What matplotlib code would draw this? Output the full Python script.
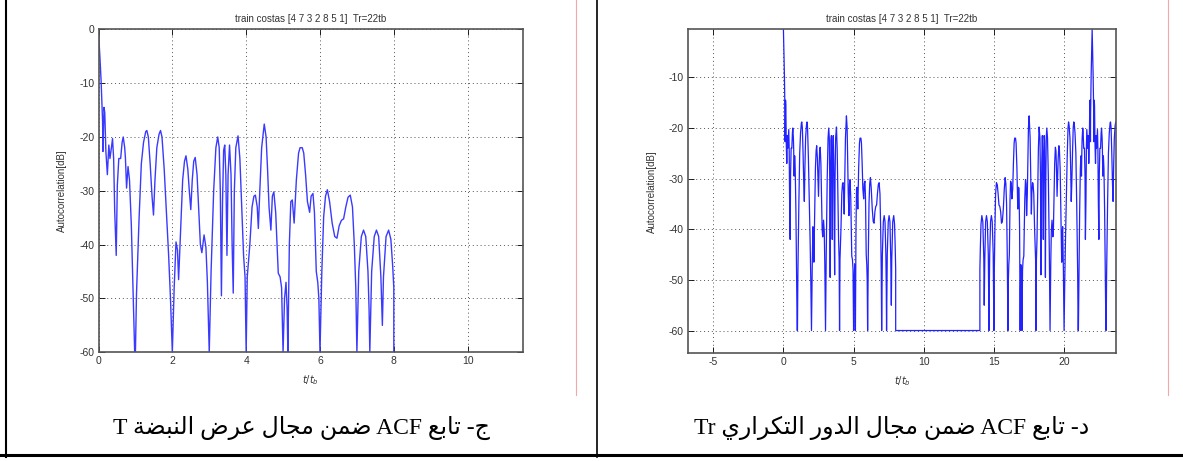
import numpy as np
import matplotlib
matplotlib.use('Agg')
import matplotlib.pyplot as plt
from matplotlib.lines import Line2D

plt.rcParams['font.family'] = ['Liberation Sans', 'DejaVu Sans']
plt.rcParams['axes.unicode_minus'] = False

# ACF of the costas pulse train (t/tb, dB)
t_pulse = [0.00, 0.04, 0.07, 0.11, 0.12, 0.15, 0.17, 0.20, 0.24, 0.28, 0.31, 0.35, 0.38,
           0.41, 0.44, 0.48, 0.51, 0.55, 0.60, 0.64, 0.67, 0.71, 0.73, 0.76, 0.80, 0.84,
           0.89, 0.94, 0.98, 1.00, 1.03, 1.10, 1.16, 1.22, 1.28, 1.31, 1.35, 1.40, 1.45,
           1.49, 1.53, 1.58, 1.64, 1.68, 1.72, 1.78, 1.84, 1.90, 1.95, 2.00, 2.05, 2.10,
           2.14, 2.17, 2.22, 2.28, 2.33, 2.37, 2.42, 2.46, 2.50, 2.54, 2.58, 2.62, 2.67,
           2.72, 2.76, 2.80, 2.86, 2.91, 2.95, 3.00, 3.05, 3.12, 3.18, 3.23, 3.27, 3.30,
           3.33, 3.36, 3.39, 3.42, 3.45, 3.48, 3.51, 3.55, 3.59, 3.62, 3.65, 3.68, 3.72,
           3.78, 3.83, 3.88, 3.93, 3.97, 4.00, 4.03, 4.10, 4.16, 4.21, 4.25, 4.30, 4.33,
           4.37, 4.42, 4.49, 4.54, 4.58, 4.62, 4.67, 4.71, 4.75, 4.80, 4.87, 4.92, 4.96,
           5.00, 5.04, 5.08, 5.11, 5.13, 5.17, 5.21, 5.25, 5.30, 5.36, 5.42, 5.46, 5.52,
           5.56, 5.61, 5.66, 5.72, 5.76, 5.81, 5.85, 5.90, 5.94, 5.97, 6.00, 6.05, 6.10,
           6.15, 6.20, 6.26, 6.33, 6.40, 6.46, 6.52, 6.58, 6.64, 6.70, 6.76, 6.82, 6.88,
           6.93, 6.97, 7.00, 7.05, 7.12, 7.18, 7.24, 7.30, 7.33, 7.35, 7.40, 7.47, 7.53,
           7.59, 7.65, 7.69, 7.72, 7.79, 7.86, 7.92, 7.97, 8.00, 8.00]
acf_pulse = [-0.5, -5.4, -9.5, -17, -22.7, -14.5, -15.5, -22.7, -27, -21.5, -24, -22, -20.3,
             -24, -34, -42, -29, -24, -24, -21, -20, -22, -24, -29.5, -25.5, -28,
             -36.5, -50, -60, -60, -49, -35, -25, -21, -19, -18.8, -20, -25, -31,
             -34.5, -28, -22, -19.5, -18.8, -20, -26, -34, -42, -50, -60, -48, -39.5,
             -41, -46.5, -38, -28, -24.5, -23.5, -26, -30, -33.5, -28, -24.5, -23.8, -27,
             -34, -40, -41.5, -38.2, -40.5, -47, -60, -45, -30, -22, -20, -22, -30,
             -49.5, -32, -22.5, -21.5, -27, -42, -27, -21.5, -27, -40, -49, -30, -22,
             -19.8, -24, -33, -42, -46, -60, -46, -40, -33, -31, -30.8, -33, -37,
             -30, -22, -17.6, -20, -26, -33, -37.3, -31, -30.2, -34, -45.3, -46, -48,
             -60, -50, -47, -52, -60, -40, -32, -31.7, -36, -28, -23, -22, -22,
             -23, -27, -32, -34, -31, -30.5, -34, -45, -47, -50, -60, -45, -34.8,
             -31, -29.8, -32, -36, -38.5, -38.8, -36.5, -35.5, -35.2, -33, -31.2, -30.8, -33,
             -40, -48, -60, -45, -38.5, -37.3, -38.5, -45, -52, -60, -45, -38.5, -37.3,
             -38.5, -46, -55, -46, -38.5, -37.3, -39, -44, -48, -60]

Tr = 22            # repetition period in tb
tail_end = 1.75    # visible part of next pulse after Tr

title = 'train costas [4 7 3 2 8 5 1]  Tr=22tb'
ylab = 'Autocorrelation[dB]'
xlab = r'$t/t_b$'
cap_left = 'ج- تابع ACF ضمن مجال عرض النبضة T'
cap_right = 'د- تابع ACF ضمن مجال الدور التكراري Tr'

# --- arabic shaping (matplotlib has no bidi / joining support) ---
FORMS = {
    'ا': (0xFE8D, 0xFE8E, None, None), 'ب': (0xFE8F, 0xFE90, 0xFE91, 0xFE92),
    'ة': (0xFE93, 0xFE94, None, None), 'ت': (0xFE95, 0xFE96, 0xFE97, 0xFE98),
    'ج': (0xFE9D, 0xFE9E, 0xFE9F, 0xFEA0), 'د': (0xFEA9, 0xFEAA, None, None),
    'ر': (0xFEAD, 0xFEAE, None, None), 'ض': (0xFEBD, 0xFEBE, 0xFEBF, 0xFEC0),
    'ع': (0xFEC9, 0xFECA, 0xFECB, 0xFECC), 'ك': (0xFED9, 0xFEDA, 0xFEDB, 0xFEDC),
    'ل': (0xFEDD, 0xFEDE, 0xFEDF, 0xFEE0), 'م': (0xFEE1, 0xFEE2, 0xFEE3, 0xFEE4),
    'ن': (0xFEE5, 0xFEE6, 0xFEE7, 0xFEE8), 'و': (0xFEED, 0xFEEE, None, None),
    'ي': (0xFEF1, 0xFEF2, 0xFEF3, 0xFEF4),
}


def join_word(w):
    out = ''
    for i, c in enumerate(w):
        if c not in FORMS:
            out += c
            continue
        f = FORMS[c]
        prev = w[i - 1] if i > 0 else ''
        nxt = w[i + 1] if i < len(w) - 1 else ''
        jp = prev in FORMS and FORMS[prev][2] is not None
        jn = f[2] is not None and nxt in FORMS
        if jp and jn:
            out += chr(f[3])
        elif jp:
            out += chr(f[1])
        elif jn:
            out += chr(f[2])
        else:
            out += chr(f[0])
    return out


def rtl(text):
    words = []
    for w in text.split(' '):
        if any('\u0600' <= c <= '\u06ff' for c in w):
            words.append(join_word(w)[::-1])
        else:
            words.append(w)
    return ' '.join(words[::-1])


W, H = 1183, 461
fig = plt.figure(figsize=(W / 100, H / 100), dpi=100)


def style(ax):
    ax.tick_params(direction='in', top=True, right=True, length=4, width=0.6,
                   labelsize=7.5, labelcolor='#333333', pad=3)
    for s in ax.spines.values():
        s.set_color('#555555')
        s.set_linewidth(1.2)
    ax.grid(True, linestyle=(0, (1, 3)), color='#555555', linewidth=0.7)
    ax.set_title(title, fontsize=7, color='#333333', pad=5)
    ax.set_ylabel(ylab, fontsize=7, color='#333333')
    ax.set_xlabel(xlab, fontsize=7, color='#333333')
    ax.xaxis.set_label_coords(0.5, -0.064)


# left: within pulse width
ax1 = fig.add_axes([98.5 / W, 1 - 352.3 / H, (523 - 98.5) / W, (352.3 - 29.3) / H])
ax1.plot(t_pulse, acf_pulse, color='#3a3aff', linewidth=1.0)
ax1.set_xlim(0, 11.5)
ax1.set_ylim(-60, 0)
ax1.set_xticks(np.arange(0, 11, 2))
ax1.set_yticks(np.arange(-60, 1, 10))
style(ax1)
ax1.yaxis.set_label_coords(-0.074, 0.5)

# right: over the repetition period
t = np.array(t_pulse)
a = np.array(acf_pulse)
tail = t <= tail_end
x_tr = np.concatenate([t, Tr - t[::-1], Tr + t[tail]])
y_tr = np.concatenate([a, a[::-1], a[tail]])

ax2 = fig.add_axes([688 / W, 1 - 353.3 / H, (1116 - 688) / W, (353.3 - 29.3) / H])
ax2.plot(x_tr, y_tr, color='#2222ff', linewidth=0.9)
ax2.set_xlim(-6.8, 23.7)
ax2.set_ylim(-64.5, -0.5)
ax2.set_xticks(np.arange(-5, 21, 5))
ax2.set_yticks(np.arange(-60, -9, 10))
style(ax2)
ax2.yaxis.set_label_coords(-0.072, 0.5)

# table frame and captions
def vline(x, y0, y1, **kw):
    fig.add_artist(Line2D([x / W, x / W], [1 - y0 / H, 1 - y1 / H], transform=fig.transFigure, **kw))


vline(5.5, 0, 457, color='black', linewidth=1.5)
vline(597, 0, 457, color='black', linewidth=1.2)
vline(576, 0, 395, color='#f2a8a8', linewidth=0.8)
vline(1168, 0, 395, color='#f2a8a8', linewidth=0.8)
fig.add_artist(Line2D([0, 1], [1 - 455 / H, 1 - 455 / H], transform=fig.transFigure,
                      color='black', linewidth=2.2))

cap_font = ['Liberation Serif', 'DejaVu Sans']
fig.text(301 / W, 1 - 428 / H, rtl(cap_left), family=cap_font, fontsize=17,
         ha='center', va='center')
fig.text(892 / W, 1 - 428 / H, rtl(cap_right), family=cap_font, fontsize=17,
         ha='center', va='center')

fig.savefig('out.png', dpi=100)
